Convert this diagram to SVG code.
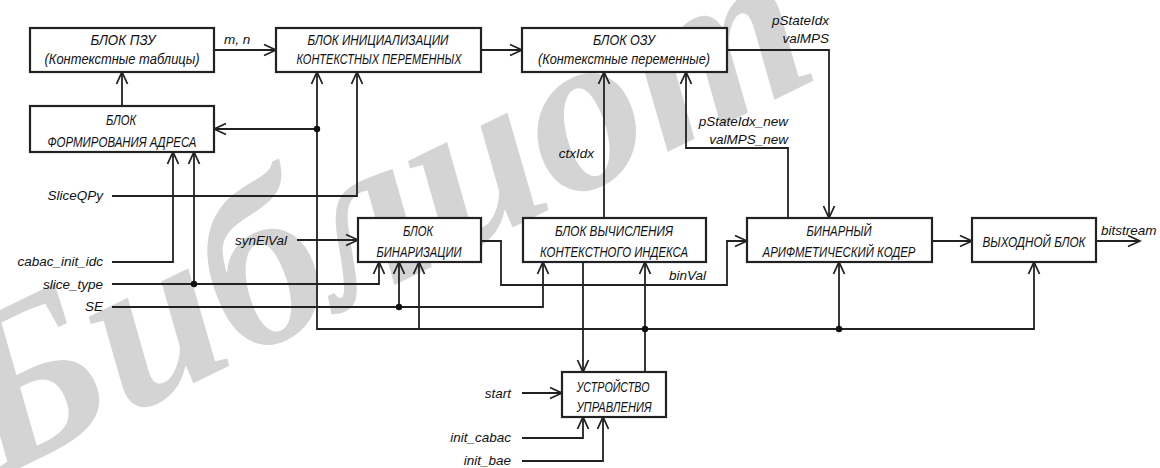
<svg xmlns="http://www.w3.org/2000/svg" width="1160" height="468" viewBox="0 0 1160 468">
<style>
.box{fill:#fff;stroke:#222;stroke-width:2.2}
.bt{font-family:"Liberation Sans",Arial,sans-serif;font-style:italic;font-size:14px;fill:#111;text-anchor:middle}
.lb{font-family:"Liberation Sans",Arial,sans-serif;font-style:italic;font-size:13.5px;fill:#111}
.end{text-anchor:end}
.wire{fill:none;stroke:#222;stroke-width:1.8}
.arr{marker-end:url(#ah)}
.dot{fill:#111}
.wm{font-family:"Liberation Serif",serif;font-style:italic;font-weight:bold;font-size:230px;fill:#d4d4d4}
</style>
<defs>
<marker id="ah" markerUnits="userSpaceOnUse" markerWidth="16" markerHeight="16" viewBox="-14 -8 16 16" refX="0" refY="0" orient="auto">
<path d="M-12,-5.5 L0,0 L-12,5.5" fill="none" stroke="#222" stroke-width="1.8"/>
</marker>
</defs>
<rect width="1160" height="468" fill="#fff"/>
<text class="wm" x="-5" y="480" transform="rotate(-26 -5 480)">Библиот</text>

<g id="connectors">
<path class="wire arr" d="M214,50 H276"/>
<path class="wire arr" d="M481,50 H522"/>
<path class="wire arr" d="M727,50 H829 V218"/>
<path class="wire arr" d="M788,218 V148 H686 V72"/>
<path class="wire arr" d="M604,218 V72"/>
<path class="wire arr" d="M122,106 V72"/>
<path class="wire arr" d="M645,372 V262"/>
<path class="wire arr" d="M645,329 H317 V72"/>
<path class="wire arr" d="M317,129 H214"/>
<path class="wire arr" d="M419,329 V262"/>
<path class="wire arr" d="M645,329 H1034 V262"/>
<path class="wire arr" d="M839,329 V262"/>
<path class="wire arr" d="M583,262 V372"/>
<path class="wire arr" d="M112,196 H357 V72"/>
<path class="wire arr" d="M112,262 H173 V152"/>
<path class="wire arr" d="M112,284 H379 V262"/>
<path class="wire arr" d="M194,284 V152"/>
<path class="wire arr" d="M112,307 H543 V262"/>
<path class="wire arr" d="M399,307 V262"/>
<path class="wire arr" d="M297,240 H358"/>
<path class="wire arr" d="M481,241 H501 V285 H727 V241 H747"/>
<path class="wire arr" d="M932,241 H972"/>
<path class="wire arr" d="M1096,241 H1140"/>
<path class="wire arr" d="M522,393 H562"/>
<path class="wire arr" d="M522,438 H583 V417"/>
<path class="wire arr" d="M522,461 H603 V417"/>
<circle class="dot" cx="317" cy="129" r="3.2"/>
<circle class="dot" cx="645" cy="329" r="3.2"/>
<circle class="dot" cx="839" cy="329" r="3.2"/>
<circle class="dot" cx="194" cy="284" r="3.2"/>
<circle class="dot" cx="399" cy="307" r="3.2"/>
</g>

<g id="labels">
<text class="lb" x="224" y="44">m, n</text>
<text class="lb end" x="829" y="25">pStateIdx</text>
<text class="lb end" x="829" y="43">valMPS</text>
<text class="lb end" x="788" y="126">pStateIdx_new</text>
<text class="lb end" x="788" y="144">valMPS_new</text>
<text class="lb end" x="594" y="158">ctxIdx</text>
<text class="lb end" x="706" y="280">binVal</text>
<text class="lb end" x="287" y="245">synElVal</text>
<text class="lb end" x="103" y="200">SliceQPy</text>
<text class="lb end" x="103" y="266">cabac_init_idc</text>
<text class="lb end" x="103" y="289">slice_type</text>
<text class="lb end" x="103" y="311">SE</text>
<text class="lb end" x="511" y="398">start</text>
<text class="lb end" x="511" y="442">init_cabac</text>
<text class="lb end" x="511" y="465">init_bae</text>
<text class="lb" x="1101" y="235">bitstream</text>
</g>

<g id="rom">
<rect class="box" x="30" y="28" width="184" height="44"/>
<text class="bt" x="123" y="45" textLength="65" lengthAdjust="spacingAndGlyphs">БЛОК ПЗУ</text>
<text class="bt" x="122" y="64" textLength="155" lengthAdjust="spacingAndGlyphs">(Контекстные таблицы)</text>
</g>
<g id="addr">
<rect class="box" x="30" y="106" width="184" height="46"/>
<text class="bt" x="121" y="125" textLength="30" lengthAdjust="spacingAndGlyphs">БЛОК</text>
<text class="bt" x="122" y="147" textLength="149" lengthAdjust="spacingAndGlyphs">ФОРМИРОВАНИЯ АДРЕСА</text>
</g>
<g id="init">
<rect class="box" x="276" y="28" width="205" height="44"/>
<text class="bt" x="378" y="45" textLength="141" lengthAdjust="spacingAndGlyphs">БЛОК ИНИЦИАЛИЗАЦИИ</text>
<text class="bt" x="379" y="64" textLength="165" lengthAdjust="spacingAndGlyphs">КОНТЕКСТНЫХ ПЕРЕМЕННЫХ</text>
</g>
<g id="ram">
<rect class="box" x="522" y="28" width="205" height="44"/>
<text class="bt" x="624" y="45" textLength="62" lengthAdjust="spacingAndGlyphs">БЛОК ОЗУ</text>
<text class="bt" x="624" y="64" textLength="172" lengthAdjust="spacingAndGlyphs">(Контекстные переменные)</text>
</g>
<g id="bin">
<rect class="box" x="358" y="218" width="123" height="44"/>
<text class="bt" x="418" y="236" textLength="30" lengthAdjust="spacingAndGlyphs">БЛОК</text>
<text class="bt" x="419" y="257" textLength="85" lengthAdjust="spacingAndGlyphs">БИНАРИЗАЦИИ</text>
</g>
<g id="ctx">
<rect class="box" x="523" y="218" width="183" height="44"/>
<text class="bt" x="614" y="236" textLength="118" lengthAdjust="spacingAndGlyphs">БЛОК ВЫЧИСЛЕНИЯ</text>
<text class="bt" x="614" y="257" textLength="148" lengthAdjust="spacingAndGlyphs">КОНТЕКСТНОГО ИНДЕКСА</text>
</g>
<g id="coder">
<rect class="box" x="747" y="218" width="185" height="44"/>
<text class="bt" x="839" y="236" textLength="65" lengthAdjust="spacingAndGlyphs">БИНАРНЫЙ</text>
<text class="bt" x="839" y="257" textLength="153" lengthAdjust="spacingAndGlyphs">АРИФМЕТИЧЕСКИЙ КОДЕР</text>
</g>
<g id="out">
<rect class="box" x="972" y="218" width="124" height="44"/>
<text class="bt" x="1034" y="247" textLength="103" lengthAdjust="spacingAndGlyphs">ВЫХОДНОЙ БЛОК</text>
</g>
<g id="ctrl">
<rect class="box" x="562" y="372" width="104" height="45"/>
<text class="bt" x="613" y="392" textLength="73" lengthAdjust="spacingAndGlyphs">УСТРОЙСТВО</text>
<text class="bt" x="614" y="412" textLength="75" lengthAdjust="spacingAndGlyphs">УПРАВЛЕНИЯ</text>
</g>
</svg>
